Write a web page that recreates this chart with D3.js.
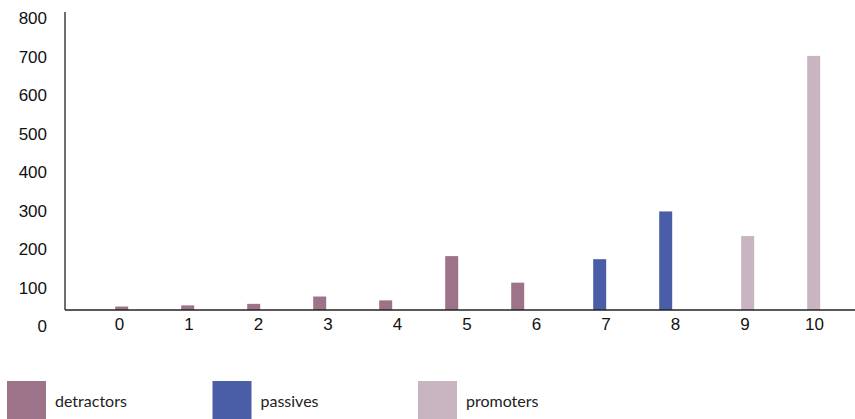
<!DOCTYPE html>
<html>
<head>
<meta charset="utf-8">
<script src="https://cdn.jsdelivr.net/npm/d3@7"></script>
<style>
  html, body { margin: 0; padding: 0; background: #fff; overflow: hidden; }
  svg { display: block; }
  .tick-label { font-family: "Liberation Sans", Arial, sans-serif; font-size: 17px; fill: #111; }
  .legend-label { font-family: Lato, "Open Sans", sans-serif; font-size: 16px; fill: #222; }
</style>
</head>
<body>
<svg id="chart" width="855" height="419"></svg>
<script>
// Net promoter score distribution: response counts per score, split by group
const categories = ["0", "1", "2", "3", "4", "5", "6", "7", "8", "9", "10"];
const seriesNames = ["detractors", "passives", "promoters"];
const detractors = [9, 12, 16, 35, 25, 140, 71, 0, 0, 0, 0];
const passives   = [0, 0, 0, 0, 0, 0, 0, 132, 256, 0, 0];
const promoters  = [0, 0, 0, 0, 0, 0, 0, 0, 0, 192, 660];
const yTicks = [0, 100, 200, 300, 400, 500, 600, 700, 800];
const colors = ["#9d7389", "#4a5ea8", "#c9b4c2"];

const seriesValues = [detractors, passives, promoters];
const rows = categories.map((c, i) => ({
  category: c,
  values: seriesNames.map((s, k) => ({ series: s, value: seriesValues[k][i] }))
}));

const svg = d3.select("#chart");
const plot = { left: 65, right: 855, top: 12, bottom: 310 };

// Scales
const y = d3.scaleLinear().domain([0, 800]).range([plot.bottom, 2]);
const x0 = d3.scaleBand().domain(categories).range([104.7, 830.7]).paddingInner(0).paddingOuter(0);
const x1 = d3.scaleBand().domain(seriesNames).range([10.5, 55.5]).paddingInner(3 / 16).paddingOuter(0);
const xLabel = d3.scalePoint().domain(categories).range([119, 814]);
const color = d3.scaleOrdinal().domain(seriesNames).range(colors);

// Bars
const groups = svg.append("g").selectAll("g")
  .data(rows)
  .join("g")
  .attr("transform", d => `translate(${x0(d.category)},0)`);

groups.selectAll("rect")
  .data(d => d.values.filter(v => v.value > 0))
  .join("rect")
  .attr("x", d => x1(d.series))
  .attr("width", x1.bandwidth())
  .attr("y", d => y(d.value))
  .attr("height", d => y(0) - y(d.value))
  .attr("fill", d => color(d.series));

// Axis lines
svg.append("line")
  .attr("x1", plot.left).attr("x2", plot.left)
  .attr("y1", plot.top).attr("y2", plot.bottom)
  .attr("stroke", "#222").attr("stroke-width", 1.3);
svg.append("line")
  .attr("x1", plot.left).attr("x2", plot.right)
  .attr("y1", plot.bottom).attr("y2", plot.bottom)
  .attr("stroke", "#222").attr("stroke-width", 1.3);

// Y axis labels (hang below their tick values)
const yAxis = svg.append("g")
  .attr("transform", "translate(47,0)")
  .call(d3.axisLeft(y).tickValues(yTicks).tickSize(0).tickPadding(0).tickFormat(d3.format("d")));
yAxis.select(".domain").remove();
yAxis.selectAll("text")
  .attr("class", "tick-label")
  .attr("x", 0)
  .attr("y", 16)
  .attr("dy", "0.35em");

// X axis labels
const xAxis = svg.append("g")
  .attr("transform", `translate(0,${plot.bottom})`)
  .call(d3.axisBottom(xLabel).tickSize(0).tickPadding(0));
xAxis.select(".domain").remove();
xAxis.selectAll("text")
  .attr("class", "tick-label")
  .attr("y", 14.5)
  .attr("dy", "0.35em");
yAxis.attr("font-family", null).attr("font-size", null);
xAxis.attr("font-family", null).attr("font-size", null);

// Legend
const legendX = d3.scalePoint().domain(seriesNames).range([7, 418]);
const legend = svg.append("g").selectAll("g")
  .data(seriesNames)
  .join("g")
  .attr("transform", d => `translate(${legendX(d)},381)`);
legend.append("rect")
  .attr("width", 39).attr("height", 40)
  .attr("fill", d => color(d));
legend.append("text")
  .attr("class", "legend-label")
  .attr("x", 48)
  .attr("y", 25.5)
  .text(d => d);
</script>
</body>
</html>
